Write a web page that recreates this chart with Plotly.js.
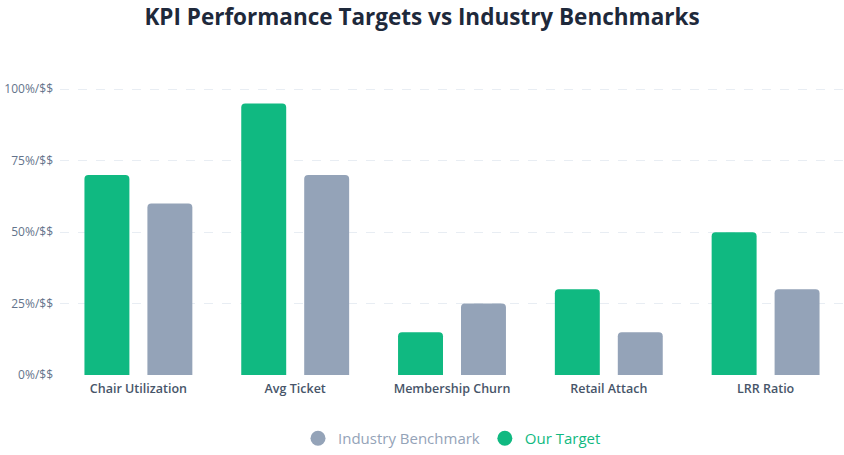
<!DOCTYPE html>
<html>
<head>
<meta charset="utf-8">
<script src="https://cdn.plot.ly/plotly-3.0.1.min.js"></script>
<style>html,body{margin:0;padding:0;background:#fff;}#chart{width:844px;height:455px;}</style>
</head>
<body>
<div id="chart"></div>
<script>
const categories = ['Chair Utilization', 'Avg Ticket', 'Membership Churn', 'Retail Attach', 'LRR Ratio'];
const ourTarget = [70, 95, 15, 30, 50];
const industryBenchmark = [60, 70, 25, 15, 30];
const tickValues = [0, 25, 50, 75, 100];
const tickLabels = ['0%/$$', '25%/$$', '50%/$$', '75%/$$', '100%/$$'];

const green = '#10b981';
const gray = '#94a3b8';

const traces = [
  {type: 'bar', name: 'Our Target', x: categories, y: ourTarget, marker: {color: green}, showlegend: false, hoverinfo: 'x+y'},
  {type: 'bar', name: 'Industry Benchmark', x: categories, y: industryBenchmark, marker: {color: gray}, showlegend: false, hoverinfo: 'x+y'},
  {type: 'scatter', mode: 'markers', name: '<span style="color:' + gray + '">Industry Benchmark</span>', x: [categories[0]], y: [null], marker: {color: gray, size: 15, symbol: 'circle'}, hoverinfo: 'skip'},
  {type: 'scatter', mode: 'markers', name: '<span style="color:' + green + '">Our Target</span>', x: [categories[0]], y: [null], marker: {color: green, size: 15, symbol: 'circle'}, hoverinfo: 'skip'}
];

const layout = {
  width: 844, height: 455,
  paper_bgcolor: '#fff', plot_bgcolor: '#fff',
  font: {family: '"Open Sans", "Noto Sans", sans-serif', color: '#64748b', size: 12},
  title: {text: '<b>KPI Performance Targets vs Industry Benchmarks</b>', x: 0.5, xanchor: 'center', y: 0.963, yanchor: 'middle',
          font: {size: 22.5, color: '#1e293b', family: '"Open Sans", "Noto Sans", sans-serif'}},
  margin: {l: 60, r: 0, t: 75, b: 79},
  barmode: 'group', bargap: 0.197, bargroupgap: 0.286, barcornerradius: 4,
  xaxis: {type: 'category', tickfont: {size: 12.5, color: '#475569', weight: 600, family: '"Open Sans", sans-serif'}, showgrid: false, showline: false, ticks: '', ticklabelstandoff: 4},
  yaxis: {range: [0, 105], tickvals: tickValues, ticktext: tickLabels, showgrid: true, gridcolor: '#e8edf3', griddash: 'dash', gridwidth: 1,
          zeroline: false, showline: false, ticks: '', tickfont: {size: 12, color: '#64748b'}, ticklabelstandoff: 6},
  legend: {orientation: 'h', x: 0.5, xanchor: 'center', y: -0.157, yanchor: 'top', font: {size: 15}, itemwidth: 30},
  showlegend: true
};

Plotly.newPlot('chart', traces, layout, {displayModeBar: false, responsive: false});
</script>
</body>
</html>
